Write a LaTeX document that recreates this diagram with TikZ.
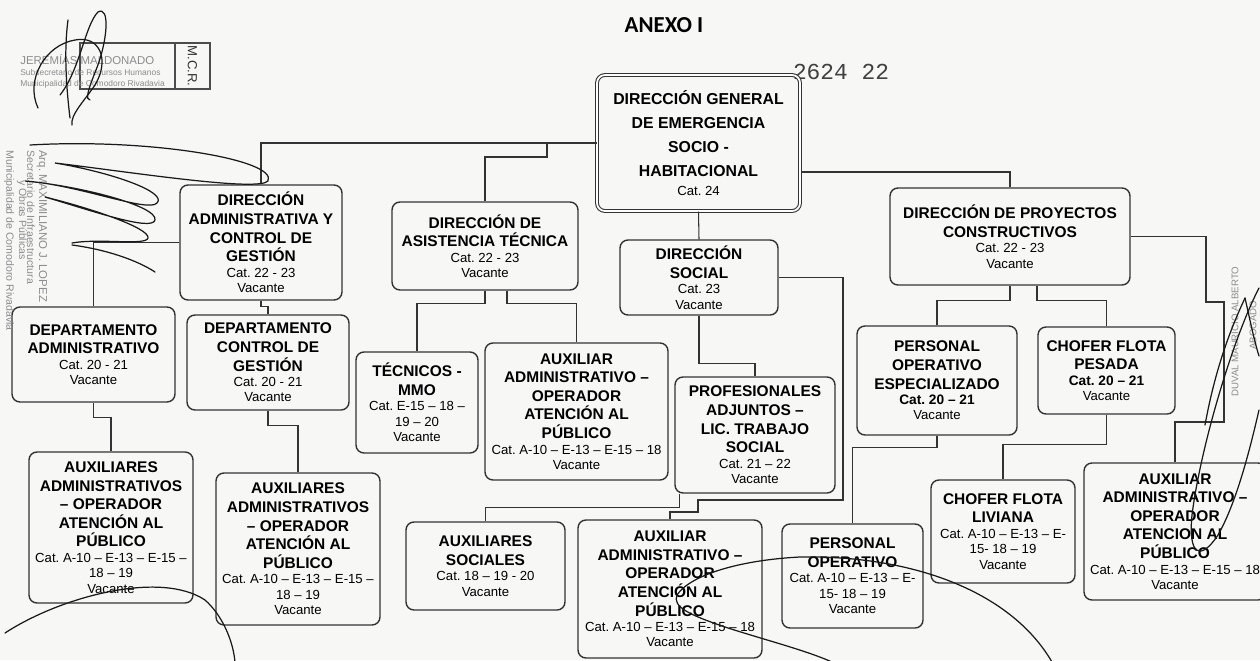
\documentclass[tikz,border=0pt]{standalone}
\usepackage{fontspec}
\setmainfont{Liberation Sans}
\newfontfamily\anexofont{Carlito}
\newfontfamily\sellofont{Liberation Mono}
\definecolor{papel}{RGB}{247,247,246}
\frenchspacing
\newcommand{\tit}{\fontsize{8.8}{10.6}\selectfont\bfseries}
\newcommand{\titg}{\fontsize{9}{13.6}\selectfont\bfseries}
\newcommand{\dato}{\fontsize{7.5}{8.8}\selectfont\mdseries}
\newcommand{\datob}{\fontsize{7.8}{8.8}\selectfont\bfseries}

\begin{document}
\begin{tikzpicture}[x=0.02cm, y=-0.02cm,
	cargo/.style={draw=black!80, line width=0.8pt, rounded corners=4.5pt, align=flush center, inner xsep=0pt, inner ysep=2pt},
	tam/.style 2 args={text width=#1cm, minimum height=#2cm},
	linea/.style={draw=black!80, line width=0.6pt},
	firma/.style={line width=0.7pt, black!90, line cap=round},
	sello/.style={text=black!45, inner sep=0pt}]
	\useasboundingbox (0,0) rectangle (1260,660);
	\clip (0,0) rectangle (1260,660);
	\fill[papel] (0,0) rectangle (1260,660);

	\node[font={\fontsize{13}{15}\anexofont\bfseries}] (anexo) at (664,25) {ANEXO I};
	\node[font={\fontsize{13}{15}\sellofont}, text=black!75] (expte) at (841,72) {2624 22};

	\node[cargo, tam={4.06}{2.72}, double, double distance=1pt, line width=0.6pt] (dg) at (698.5,143) {\titg DIRECCIÓN GENERAL\\DE EMERGENCIA\\SOCIO -\\HABITACIONAL\par\vspace{2pt}\dato Cat. 24\par};
	\node[cargo, tam={3.24}{2.30}] (dacg) at (261,242.5) {\tit DIRECCIÓN\\ADMINISTRATIVA Y\\CONTROL DE\\GESTIÓN\par\dato Cat. 22 - 23\\Vacante\par};
	\node[cargo, tam={3.72}{1.76}] (dat) at (485,246) {\tit DIRECCIÓN DE\\ASISTENCIA TÉCNICA\par\dato Cat. 22 - 23\\Vacante\par};
	\node[cargo, tam={3.16}{1.50}] (ds) at (699,277.5) {\tit DIRECCIÓN\\SOCIAL\par\dato Cat. 23\\Vacante\par};
	\node[cargo, tam={4.80}{1.94}] (dpc) at (1010,236.5) {\tit DIRECCIÓN DE PROYECTOS\\CONSTRUCTIVOS\par\dato Cat. 22 - 23\\Vacante\par};
	\node[cargo, tam={3.26}{1.90}] (depadm) at (93.5,354.5) {\tit DEPARTAMENTO\\ADMINISTRATIVO\par\dato Cat. 20 - 21\\Vacante\par};
	\node[cargo, tam={3.24}{1.90}] (depcg) at (268,362.5) {\tit DEPARTAMENTO\\CONTROL DE\\GESTIÓN\par\dato Cat. 20 - 21\\Vacante\par};
	\node[cargo, tam={3.28}{3.02}] (auxadm) at (111,527.5) {\tit AUXILIARES\\ADMINISTRATIVOS\\– OPERADOR\\ATENCIÓN AL\\PÚBLICO\par\dato Cat. A-10 – E-13 – E-15 –\\18 – 19\\Vacante\par};
	\node[cargo, tam={3.28}{3.04}] (auxcg) at (298,549) {\tit AUXILIARES\\ADMINISTRATIVOS\\– OPERADOR\\ATENCIÓN AL\\PÚBLICO\par\dato Cat. A-10 – E-13 – E-15 –\\18 – 19\\Vacante\par};
	\node[cargo, tam={2.44}{2.02}] (tec) at (417,402.5) {\tit TÉCNICOS -\\MMO\par\dato Cat. E-15 – 18 –\\19 – 20\\Vacante\par};
	\node[cargo, tam={3.66}{2.74}] (auxdat) at (576.5,411.5) {\tit AUXILIAR\\ADMINISTRATIVO –\\OPERADOR\\ATENCIÓN AL\\PÚBLICO\par\dato Cat. A-10 – E-13 – E-15 – 18\\Vacante\par};
	\node[cargo, tam={3.20}{2.32}] (prof) at (755,435) {\tit PROFESIONALES\\ADJUNTOS –\\LIC. TRABAJO\\SOCIAL\par\dato Cat. 21 – 22\\Vacante\par};
	\node[cargo, tam={3.18}{1.76}] (auxsoc) at (485.5,566) {\tit AUXILIARES\\SOCIALES\par\dato Cat. 18 – 19 - 20\\Vacante\par};
	\node[cargo, tam={3.68}{2.76}] (auxds) at (670,589) {\tit AUXILIAR\\ADMINISTRATIVO –\\OPERADOR\\ATENCIÓN AL\\PÚBLICO\par\dato Cat. A-10 – E-13 – E-15 – 18\\Vacante\par};
	\node[cargo, tam={3.20}{2.18}] (persesp) at (937,380.5) {\tit PERSONAL\\OPERATIVO\\ESPECIALIZADO\par\datob Cat. 20 – 21\par\dato Vacante\par};
	\node[cargo, tam={2.74}{1.74}] (chpes) at (1106.5,370.5) {\tit CHOFER FLOTA\\PESADA\par\datob Cat. 20 – 21\par\dato Vacante\par};
	\node[cargo, tam={2.82}{2.08}] (persop) at (852.5,576) {\tit PERSONAL\\OPERATIVO\par\dato Cat. A-10 – E-13 – E-\\15- 18 – 19\\Vacante\par};
	\node[cargo, tam={2.88}{2.06}] (chliv) at (1003,531.5) {\tit CHOFER FLOTA\\LIVIANA\par\dato Cat. A-10 – E-13 – E-\\15- 18 – 19\\Vacante\par};
	\node[cargo, tam={3.64}{2.74}] (auxdpc) at (1175,531.5) {\tit AUXILIAR\\ADMINISTRATIVO –\\OPERADOR\\ATENCION AL\\PÚBLICO\par\dato Cat. A-10 – E-13 – E-15 – 18\\Vacante\par};

	\coordinate (jdat) at (547,143);
	\draw[linea] (dg.west) -| (dacg.north);
	\draw[linea] (jdat) -- ++(0,14) -| (dat.north);
	\draw[linea] (dg.south) -- (ds.north);
	\draw[linea] (dg.east) ++(0,29) -| (dpc.north);
	\draw[linea] (ds.east) -| (843,500) -| (698,512) -| (auxds.north);
	\draw[linea] (ds.south) -- ++(0,48) -| (prof.north);
	\draw[linea] (prof.south west) ++(5,0) -- ++(0,14) -| (auxsoc.north);
	\draw[linea] (dacg.west) -| (depadm.north);
	\draw[linea] (dacg.south) -- ++(0,6) -| (depcg.north);
	\draw[linea] (depadm.south) -- ++(0,15) -| (auxadm.north);
	\draw[linea] (depcg.south) -- ++(0,15) -| (auxcg.north);
	\draw[linea] (dat.south) -- ++(0,13) -| (tec.north);
	\draw[linea] (dat.south) ++(22,0) -- ++(0,13) -| (auxdat.north);
	\draw[linea] (dpc.south) -- ++(0,15) -| (persesp.north);
	\draw[linea] (dpc.south) ++(27,0) -- ++(0,15) -| (chpes.north);
	\draw[linea] (dpc.east) -| (1206,302) -| (1224,422) -| (auxdpc.north);
	\draw[linea] (persesp.south) -- ++(0,12) -| (persop.north);
	\draw[linea] (chpes.south) -- ++(0,30) -| (chliv.north);

	\draw[black!70, line width=0.6pt] (80,43) rectangle (210,89);
	\draw[black!70, line width=0.6pt] (175,43) -- (175,89);
	\node[rotate=-90, font={\fontsize{7.5}{9}\selectfont}, text=black!80] (mcr) at (192.5,66) {M.C.R.};
	\node[sello, anchor=west, font={\fontsize{6.5}{8}\selectfont}] (jm) at (20,60) {JEREMÍAS MALDONADO};
	\node[sello, anchor=west, font={\fontsize{4.8}{6}\selectfont}] (jm2) at (20,72) {Subsecretario de Recursos Humanos};
	\node[sello, anchor=west, font={\fontsize{4.8}{6}\selectfont}] (jm3) at (20,84) {Municipalidad de Comodoro Rivadavia};
	\node[sello, rotate=-90, anchor=west, font={\fontsize{6.5}{8}\selectfont}] (ml) at (42,150) {Arq. MAXIMILIANO J. LOPEZ};
	\node[sello, rotate=-90, anchor=west, font={\fontsize{6}{7}\selectfont}] (ml2) at (31,150) {Secretario de Infraestructura};
	\node[sello, rotate=-90, anchor=west, font={\fontsize{6}{7}\selectfont}] (ml3) at (22,180) {y Obras Públicas};
	\node[sello, rotate=-90, anchor=west, font={\fontsize{6}{7}\selectfont}] (ml4) at (9,150) {Municipalidad de Comodoro Rivadavia};
	\node[sello, rotate=90, anchor=west, font={\fontsize{5.5}{7}\selectfont}] (dv) at (1235,397) {DUVAL MAURICIO ALBERTO};
	\node[sello, rotate=90, anchor=west, font={\fontsize{5.5}{7}\selectfont}] (dv2) at (1253,350) {ABOGADO};

	\draw[firma] (38,108) .. controls (25,80) and (45,45) .. (75,40) .. controls (100,35) and (110,60) .. (95,85) .. controls (85,100) and (70,115) .. (72,125);
	\draw[firma] (68,20) .. controls (64,50) and (66,85) .. (70,118);
	\draw[firma] (60,95) .. controls (80,70) and (85,25) .. (98,12) .. controls (110,5) and (108,40) .. (96,70) .. controls (88,90) and (85,100) .. (90,100);
	\draw[firma] (30,145) .. controls (150,138) and (278,160) .. (268,181) .. controls (258,192) and (130,172) .. (55,163) .. controls (110,172) and (168,192) .. (157,203) .. controls (148,213) and (80,185) .. (25,181) .. controls (80,186) and (158,206) .. (155,220) .. controls (152,232) and (90,210) .. (45,197) .. controls (90,208) and (150,228) .. (148,238) .. controls (146,246) and (100,238) .. (72,243);
	\draw[firma] (72,245) .. controls (110,250) and (140,262) .. (155,272);
	\draw[firma] (5,633) .. controls (60,597) and (160,570) .. (205,600) .. controls (222,615) and (233,640) .. (235,662);
	\draw[firma] (1052,662) .. controls (1010,590) and (910,555) .. (800,557) .. controls (740,560) and (690,575) .. (677,595) .. controls (672,607) and (690,615) .. (725,627) .. controls (765,640) and (805,650) .. (832,662);
	\draw[firma] (1259,288) .. controls (1232,340) and (1200,450) .. (1192,515) .. controls (1188,555) and (1200,562) .. (1218,535) .. controls (1238,500) and (1252,440) .. (1259,410);
	\draw[firma] (1245,298) .. controls (1250,320) and (1254,340) .. (1259,356);
	\draw[firma] (1245,298) .. controls (1230,330) and (1215,370) .. (1205,425);
\end{tikzpicture}
\end{document}
